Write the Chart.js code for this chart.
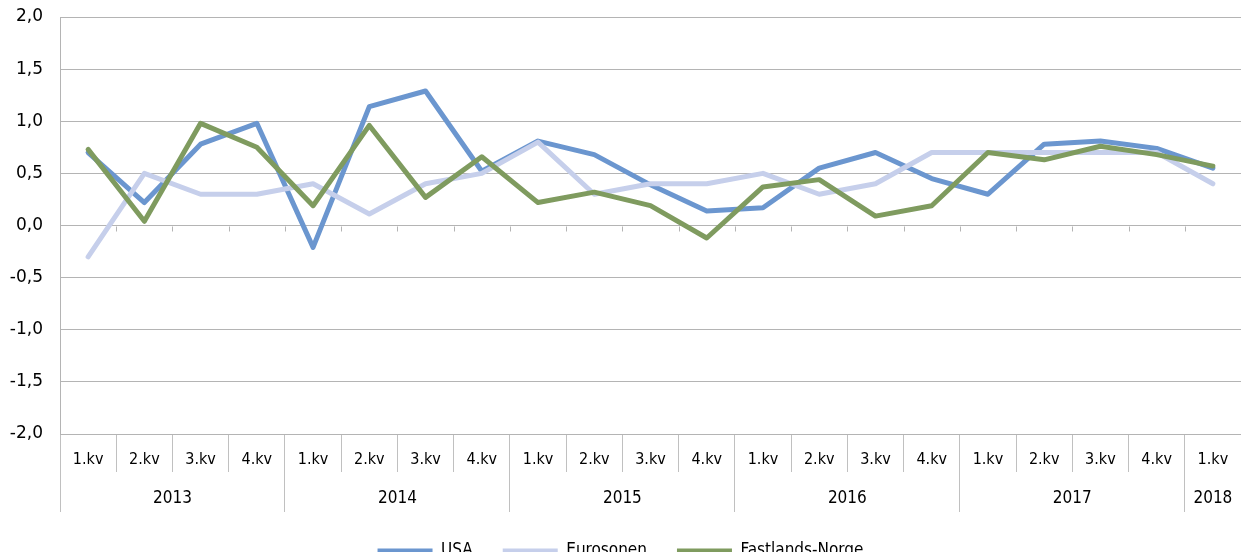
<!DOCTYPE html>
<html>
<head>
<meta charset="utf-8">
<script src="https://cdn.jsdelivr.net/npm/chart.js@4.4.1/dist/chart.umd.min.js"></script>
<style>
  html, body { margin: 0; padding: 0; background: #ffffff; overflow: hidden; }
  #wrap { width: 1241px; height: 560px; position: relative; }
  canvas { display: block; }
</style>
</head>
<body>
<div id="wrap"><canvas id="c" width="1241" height="560"></canvas></div>
<script>
// ---- Data ----
const quarterLabels = ['1.kv','2.kv','3.kv','4.kv','1.kv','2.kv','3.kv','4.kv','1.kv','2.kv','3.kv','4.kv',
                       '1.kv','2.kv','3.kv','4.kv','1.kv','2.kv','3.kv','4.kv','1.kv'];
const years = ['2013','2014','2015','2016','2017','2018'];
const quartersPerYear = [4, 4, 4, 4, 4, 1];
const seriesNames = ['USA', 'Eurosonen', 'Fastlands-Norge'];
const usa = [0.70, 0.22, 0.78, 0.98, -0.21, 1.14, 1.29, 0.52, 0.81, 0.68, 0.39, 0.14, 0.17, 0.55, 0.70, 0.45, 0.30, 0.78, 0.81, 0.74, 0.55];
const eurosonen = [-0.30, 0.50, 0.30, 0.30, 0.40, 0.11, 0.40, 0.50, 0.80, 0.30, 0.40, 0.40, 0.50, 0.30, 0.40, 0.70, 0.70, 0.70, 0.70, 0.70, 0.40];
const fastlandsNorge = [0.73, 0.04, 0.98, 0.75, 0.19, 0.96, 0.27, 0.66, 0.22, 0.32, 0.19, -0.12, 0.37, 0.44, 0.09, 0.19, 0.70, 0.63, 0.76, 0.68, 0.57];
const yMin = -2.0, yMax = 2.0, yStep = 0.5;

// ---- Styles ----
const FONT = "'DejaVu Sans Condensed', 'DejaVu Sans', sans-serif";
const FONT_Y = "'DejaVu Sans', sans-serif";
const colors = ['#6b96cf', '#c6cfeb', '#7f9b5f'];
const gridColor = '#b4b4b4';
const sepColor = '#c0c0c0';

// year group ticks (boundaries + centres) on the second x axis
const yearBoundaries = [];
const yearCentres = [];
(function () {
  let start = -0.5;
  quartersPerYear.forEach((c, i) => {
    yearBoundaries.push(start);
    yearCentres.push({ value: start + c / 2, label: years[i] });
    start += c;
  });
  yearBoundaries.push(start);
})();
const isBoundary = v => yearBoundaries.some(b => Math.abs(b - v) < 1e-6);

// small tick marks hanging from the zero line (category axis crossing at 0)
const zeroTicks = {
  id: 'zeroTicks',
  beforeDatasetsDraw(chart) {
    const { ctx } = chart;
    const x2 = chart.scales.x2, y = chart.scales.y;
    const y0 = Math.round(y.getPixelForValue(0)) + 0.5;
    ctx.save();
    ctx.strokeStyle = gridColor;
    ctx.lineWidth = 1;
    ctx.beginPath();
    for (let i = 0; i <= quarterLabels.length; i++) {
      const px = Math.round(x2.getPixelForValue(i - 0.5)) + 0.5;
      ctx.moveTo(px, y0);
      ctx.lineTo(px, y0 + 5);
    }
    ctx.stroke();
    ctx.restore();
  }
};

const data = {
  labels: quarterLabels,
  datasets: [usa, eurosonen, fastlandsNorge].map((vals, i) => ({
    label: seriesNames[i],
    data: vals,
    borderColor: colors[i],
    backgroundColor: colors[i],
    borderWidth: 5,
    pointRadius: 0,
    pointHoverRadius: 0,
    tension: 0,
    borderJoinStyle: 'round',
    borderCapStyle: 'round',
    order: 3 - i
  }))
};

new Chart(document.getElementById('c'), {
  type: 'line',
  data,
  options: {
    responsive: false,
    animation: false,
    events: [],
    layout: { padding: { top: 17, right: 0, bottom: 8, left: 0 } },
    plugins: {
      tooltip: { enabled: false },
      legend: {
        position: 'bottom',
        maxHeight: 40,
        labels: {
          boxWidth: 55,
          boxHeight: 4,
          padding: 30,
          color: '#000000',
          font: { family: FONT, size: 17 },
          sort: (a, b) => a.datasetIndex - b.datasetIndex,
          generateLabels: (chart) => chart.data.datasets.map((ds, i) => ({
            text: ds.label,
            fillStyle: ds.borderColor,
            strokeStyle: ds.borderColor,
            lineWidth: 0,
            hidden: false,
            datasetIndex: i
          }))
        }
      }
    },
    scales: {
      x: {
        type: 'category',
        position: 'bottom',
        offset: true,
        afterFit: s => { s.height = 38; s.paddingLeft = 0; s.paddingRight = 0; },
        border: { display: false },
        grid: { offset: true, drawOnChartArea: false, drawTicks: true, tickLength: 38, color: sepColor, lineWidth: 1 },
        ticks: { padding: -22, color: '#000000', font: { family: FONT, size: 16 }, maxRotation: 0, autoSkip: false }
      },
      x2: {
        type: 'linear',
        position: 'bottom',
        min: -0.5,
        max: quarterLabels.length - 0.5,
        offset: false,
        afterFit: s => { s.height = 40; s.paddingLeft = 0; s.paddingRight = 0; },
        afterBuildTicks: s => {
          const t = yearBoundaries.map(v => ({ value: v })).concat(yearCentres.map(c => ({ value: c.value })));
          t.sort((a, b) => a.value - b.value);
          s.ticks = t;
        },
        border: { display: false },
        grid: {
          drawOnChartArea: false, drawTicks: true, tickLength: 40, lineWidth: 1,
          color: ctx => (ctx.tick && isBoundary(ctx.tick.value)) ? sepColor : 'rgba(0,0,0,0)'
        },
        ticks: {
          padding: -24, autoSkip: false, maxRotation: 0, color: '#000000',
          font: { family: FONT, size: 17 },
          callback: v => { const c = yearCentres.find(c => Math.abs(c.value - v) < 1e-6); return c ? c.label : ''; }
        }
      },
      y: {
        min: yMin,
        max: yMax,
        afterFit: s => { s.width = 60; s.paddingTop = 0; s.paddingBottom = 0; },
        border: { display: true, color: gridColor, width: 1 },
        grid: { color: gridColor, lineWidth: 1, drawTicks: false },
        ticks: {
          stepSize: yStep,
          padding: 17,
          color: '#000000',
          font: { family: FONT_Y, size: 17 },
          callback: v => v.toFixed(1).replace('.', ',')
        }
      }
    }
  },
  plugins: [zeroTicks]
});
</script>
</body>
</html>
